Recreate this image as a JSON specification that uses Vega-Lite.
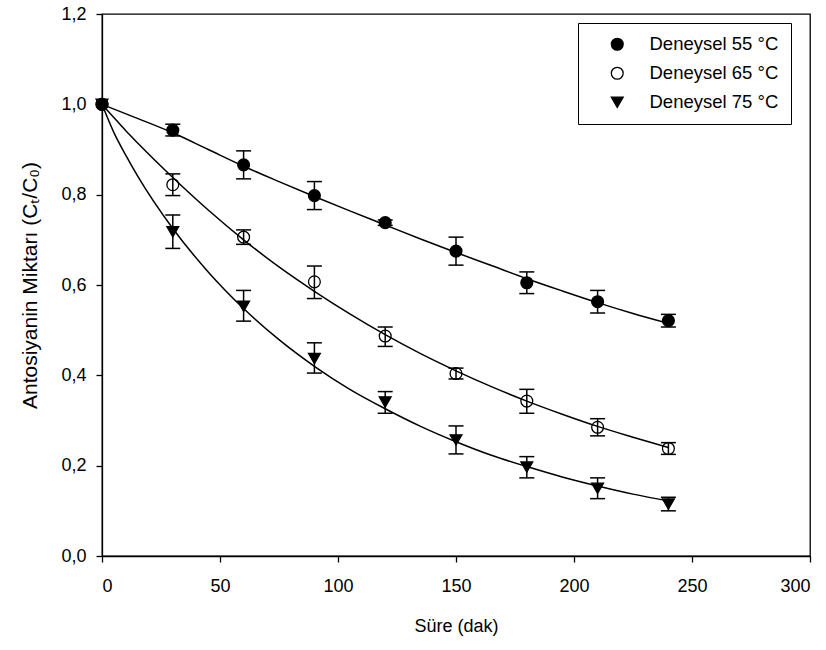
{
  "$schema": "https://vega.github.io/schema/vega-lite/v6.json",
  "width": 708,
  "height": 542,
  "autosize": {"type": "none"},
  "padding": {"left": 102, "top": 14, "right": 16, "bottom": 94},
  "background": "white",
  "config": {
    "font": "Liberation Sans",
    "view": {"stroke": "black", "strokeWidth": 1.3},
    "axis": {
      "grid": false,
      "domainColor": "black",
      "domainWidth": 1.3,
      "tickColor": "black",
      "tickWidth": 1.3,
      "tickSize": 6,
      "labelColor": "black",
      "titleColor": "black",
      "labelFontSize": 18,
      "titleFontSize": 18,
      "titleFontWeight": "normal"
    },
    "legend": {
      "title": " ", "titleFontSize": 2, "titlePadding": 5,
      "orient": "none", "legendX": 476, "legendY": 9,
      "strokeColor": "black", "padding": 12, "symbolOffset": 18, "labelOffset": 23,
      "rowPadding": 10, "labelFontSize": 18.5, "labelColor": "black",
      "symbolSize": 140, "symbolStrokeColor": "black", "symbolStrokeWidth": 1.3
    }
  },
  "datasets": {
    "pts": [
      {"series": "Deneysel 55 °C", "t": 0, "v": 1.0, "lo": null, "hi": null},
      {"series": "Deneysel 55 °C", "t": 30, "v": 0.943, "lo": 0.930, "hi": 0.956},
      {"series": "Deneysel 55 °C", "t": 60, "v": 0.866, "lo": 0.835, "hi": 0.897},
      {"series": "Deneysel 55 °C", "t": 90, "v": 0.798, "lo": 0.767, "hi": 0.829},
      {"series": "Deneysel 55 °C", "t": 120, "v": 0.738, "lo": 0.732, "hi": 0.744},
      {"series": "Deneysel 55 °C", "t": 150, "v": 0.675, "lo": 0.644, "hi": 0.706},
      {"series": "Deneysel 55 °C", "t": 180, "v": 0.605, "lo": 0.581, "hi": 0.629},
      {"series": "Deneysel 55 °C", "t": 210, "v": 0.563, "lo": 0.538, "hi": 0.588},
      {"series": "Deneysel 55 °C", "t": 240, "v": 0.521, "lo": 0.507, "hi": 0.535},
      {"series": "Deneysel 65 °C", "t": 0, "v": 1.0, "lo": null, "hi": null},
      {"series": "Deneysel 65 °C", "t": 30, "v": 0.822, "lo": 0.798, "hi": 0.846},
      {"series": "Deneysel 65 °C", "t": 60, "v": 0.706, "lo": 0.690, "hi": 0.722},
      {"series": "Deneysel 65 °C", "t": 90, "v": 0.607, "lo": 0.570, "hi": 0.642},
      {"series": "Deneysel 65 °C", "t": 120, "v": 0.487, "lo": 0.464, "hi": 0.507},
      {"series": "Deneysel 65 °C", "t": 150, "v": 0.404, "lo": 0.392, "hi": 0.416},
      {"series": "Deneysel 65 °C", "t": 180, "v": 0.343, "lo": 0.316, "hi": 0.369},
      {"series": "Deneysel 65 °C", "t": 210, "v": 0.285, "lo": 0.266, "hi": 0.304},
      {"series": "Deneysel 65 °C", "t": 240, "v": 0.238, "lo": 0.225, "hi": 0.251},
      {"series": "Deneysel 75 °C", "t": 0, "v": 1.0, "lo": null, "hi": null},
      {"series": "Deneysel 75 °C", "t": 30, "v": 0.718, "lo": 0.681, "hi": 0.755},
      {"series": "Deneysel 75 °C", "t": 60, "v": 0.553, "lo": 0.520, "hi": 0.588},
      {"series": "Deneysel 75 °C", "t": 90, "v": 0.437, "lo": 0.405, "hi": 0.472},
      {"series": "Deneysel 75 °C", "t": 120, "v": 0.341, "lo": 0.316, "hi": 0.364},
      {"series": "Deneysel 75 °C", "t": 150, "v": 0.257, "lo": 0.226, "hi": 0.288},
      {"series": "Deneysel 75 °C", "t": 180, "v": 0.197, "lo": 0.173, "hi": 0.220},
      {"series": "Deneysel 75 °C", "t": 210, "v": 0.150, "lo": 0.127, "hi": 0.173},
      {"series": "Deneysel 75 °C", "t": 240, "v": 0.115, "lo": 0.100, "hi": 0.130}
    ],
    "fits": [
      {"series": "55", "t": 0, "v": 1.0},
      {"series": "55", "t": 15, "v": 0.969},
      {"series": "55", "t": 30, "v": 0.937},
      {"series": "55", "t": 45, "v": 0.900},
      {"series": "55", "t": 60, "v": 0.863},
      {"series": "55", "t": 75, "v": 0.829},
      {"series": "55", "t": 90, "v": 0.796},
      {"series": "55", "t": 105, "v": 0.764},
      {"series": "55", "t": 120, "v": 0.733},
      {"series": "55", "t": 135, "v": 0.702},
      {"series": "55", "t": 150, "v": 0.672},
      {"series": "55", "t": 165, "v": 0.643},
      {"series": "55", "t": 180, "v": 0.614},
      {"series": "55", "t": 195, "v": 0.587},
      {"series": "55", "t": 210, "v": 0.561},
      {"series": "55", "t": 225, "v": 0.537},
      {"series": "55", "t": 240, "v": 0.515},
      {"series": "65", "t": 0, "v": 1.0},
      {"series": "65", "t": 5, "v": 0.971},
      {"series": "65", "t": 10, "v": 0.942},
      {"series": "65", "t": 15, "v": 0.915},
      {"series": "65", "t": 30, "v": 0.838},
      {"series": "65", "t": 45, "v": 0.766},
      {"series": "65", "t": 60, "v": 0.700},
      {"series": "65", "t": 75, "v": 0.640},
      {"series": "65", "t": 90, "v": 0.586},
      {"series": "65", "t": 105, "v": 0.536},
      {"series": "65", "t": 120, "v": 0.490},
      {"series": "65", "t": 135, "v": 0.448},
      {"series": "65", "t": 150, "v": 0.410},
      {"series": "65", "t": 165, "v": 0.375},
      {"series": "65", "t": 180, "v": 0.343},
      {"series": "65", "t": 195, "v": 0.314},
      {"series": "65", "t": 210, "v": 0.287},
      {"series": "65", "t": 225, "v": 0.263},
      {"series": "65", "t": 240, "v": 0.240},
      {"series": "75", "t": 0, "v": 1.0},
      {"series": "75", "t": 5, "v": 0.938},
      {"series": "75", "t": 10, "v": 0.888},
      {"series": "75", "t": 15, "v": 0.842},
      {"series": "75", "t": 30, "v": 0.725},
      {"series": "75", "t": 45, "v": 0.629},
      {"series": "75", "t": 60, "v": 0.548},
      {"series": "75", "t": 75, "v": 0.479},
      {"series": "75", "t": 90, "v": 0.420},
      {"series": "75", "t": 105, "v": 0.369},
      {"series": "75", "t": 120, "v": 0.326},
      {"series": "75", "t": 135, "v": 0.287},
      {"series": "75", "t": 150, "v": 0.253},
      {"series": "75", "t": 165, "v": 0.223},
      {"series": "75", "t": 180, "v": 0.198},
      {"series": "75", "t": 195, "v": 0.175},
      {"series": "75", "t": 210, "v": 0.155},
      {"series": "75", "t": 225, "v": 0.137},
      {"series": "75", "t": 240, "v": 0.122}
    ]
  },
  "layer": [
    {
      "data": {"name": "fits"},
      "mark": {"type": "line", "color": "black", "strokeWidth": 1.5, "interpolate": "monotone"},
      "encoding": {
        "x": {
          "field": "t", "type": "quantitative",
          "scale": {"domain": [0, 300], "nice": false, "zero": false},
          "axis": {"values": [0, 50, 100, 150, 200, 250, 300], "title": "Süre (dak)", "labelPadding": 15, "titlePadding": 22}
        },
        "y": {
          "field": "v", "type": "quantitative",
          "scale": {"domain": [0, 1.2], "nice": false},
          "axis": {
            "values": [0, 0.2, 0.4, 0.6, 0.8, 1.0, 1.2],
            "labelExpr": "replace(format(datum.value, '.1f'), '.', ',')",
            "labelPadding": 10,
            "title": "Antosiyanin Miktarı (Cₜ/C₀)",
            "titleFontSize": 21,
            "titlePadding": 20
          }
        },
        "detail": {"field": "series"}
      }
    },
    {
      "data": {"name": "pts"},
      "mark": {"type": "rule", "color": "black", "strokeWidth": 1.5},
      "encoding": {
        "x": {"field": "t", "type": "quantitative"},
        "y": {"field": "lo", "type": "quantitative"},
        "y2": {"field": "hi"}
      }
    },
    {
      "data": {"name": "pts"},
      "mark": {"type": "rule", "color": "black", "strokeWidth": 1.5, "xOffset": -7.5, "x2Offset": 7.5},
      "encoding": {
        "x": {"field": "t", "type": "quantitative"},
        "x2": {"field": "t"},
        "y": {"field": "lo", "type": "quantitative"}
      }
    },
    {
      "data": {"name": "pts"},
      "mark": {"type": "rule", "color": "black", "strokeWidth": 1.5, "xOffset": -7.5, "x2Offset": 7.5},
      "encoding": {
        "x": {"field": "t", "type": "quantitative"},
        "x2": {"field": "t"},
        "y": {"field": "hi", "type": "quantitative"}
      }
    },
    {
      "data": {"name": "pts"},
      "mark": {"type": "point", "filled": true, "strokeWidth": 1.3, "size": 140, "opacity": 1},
      "encoding": {
        "x": {"field": "t", "type": "quantitative"},
        "y": {"field": "v", "type": "quantitative"},
        "shape": {
          "field": "series", "type": "nominal",
          "scale": {"domain": ["Deneysel 55 °C", "Deneysel 65 °C", "Deneysel 75 °C"], "range": ["circle", "circle", "triangle-down"]}
        },
        "fill": {
          "field": "series", "type": "nominal",
          "scale": {"domain": ["Deneysel 55 °C", "Deneysel 65 °C", "Deneysel 75 °C"], "range": ["black", "transparent", "black"]}
        },
        "stroke": {
          "field": "series", "type": "nominal",
          "scale": {"domain": ["Deneysel 55 °C", "Deneysel 65 °C", "Deneysel 75 °C"], "range": ["black", "black", "black"]}
        }
      }
    }
  ]
}
